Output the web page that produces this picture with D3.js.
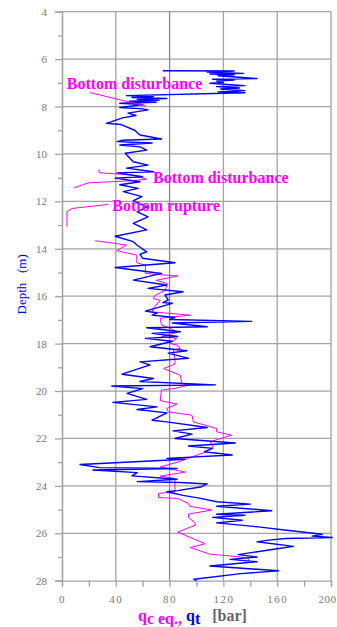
<!DOCTYPE html>
<html>
<head>
<meta charset="utf-8">
<script src="https://cdn.jsdelivr.net/npm/d3@7"></script>
<style>
  html, body { margin: 0; padding: 0; background: #fff; }
  svg { display: block; }
</style>
</head>
<body>
<svg id="chart" width="337" height="627"></svg>
<script>
// Depth axis (m) and resistance axis (bar)
const depthTicksMajor = [4, 6, 8, 10, 12, 14, 16, 18, 20, 22, 24, 26, 28];
const depthTicksMinor = [5, 7, 9, 11, 13, 15, 17, 19, 21, 23, 25, 27];
const barTicksLabeled = [0, 40, 80, 120, 160, 200];
const barTicksAll = [0, 20, 40, 60, 80, 100, 120, 140, 160, 180, 200];

// qt profile: [depth m, qt bar]
const qtProfile = [
  [6.49,75],[6.50,128],[6.55,108],[6.60,135],[6.63,110],[6.66,128],[6.70,116],[6.82,145],
  [6.85,112],[6.88,128],[6.93,115],[6.98,120],[7.02,110],[7.12,136],[7.16,115],[7.22,132],
  [7.26,118],[7.33,136],[7.38,116],[7.42,136],[7.54,48],[7.58,68],[7.62,52],[7.66,78],
  [7.70,56],[7.74,72],[7.78,50],[7.82,70],[7.86,43],[7.92,60],[8.04,43],[8.10,60],
  [8.14,64],[8.28,49],[8.38,55],[8.48,45],[8.71,33],[8.76,44],[9.00,54],[9.20,58],
  [9.37,74],[9.42,45],[9.48,41],[9.54,67],[9.62,43],[9.70,58],[9.84,63],[9.97,47],
  [10.15,50],[10.33,53],[10.47,64],[10.60,48],[10.75,68],[10.80,41],[10.96,60],[11.02,39.5],
  [11.17,58],[11.30,43],[11.45,56.6],[11.59,45.6],[11.80,59.5],[11.97,53],[12.23,63],[12.44,56],
  [12.65,64],[12.93,53],[13.20,63],[13.47,39.5],[13.70,53],[13.85,56],[14.13,63],[14.23,58],
  [14.40,60],[14.59,84],[14.79,39.5],[15.04,74],[15.32,53],[15.53,78],[15.67,64],[15.81,90],
  [15.95,76.6],[16.16,79],[16.27,75],[16.30,82],[16.63,62],[16.71,70.7],[16.80,67],[16.90,84],
  [16.98,80],[17.06,141],[17.13,82],[17.29,108],[17.33,63],[17.50,88],[17.57,67],[17.70,86],
  [17.78,62],[17.90,82],[18.13,65.5],[18.30,93],[18.40,79],[18.62,94],[18.77,58],[18.90,65.5],
  [19.29,44.7],[19.47,68],[19.60,58],[19.74,114],[19.79,37],[19.90,60],[20.10,48.4],[20.35,63],
  [20.48,37.9],[20.67,70.7],[20.78,55.8],[20.92,78],[21.06,73],[21.23,67],[21.30,78],[21.54,108],
  [21.68,82.6],[21.82,96.7],[22.00,84],[22.19,128.8],[22.32,94],[22.42,112],[22.56,106],[22.70,126.5],
  [22.84,78],[22.88,91.5],[23.10,13.4],[23.23,28],[23.27,85.6],[23.33,23],[23.44,56],[23.58,52],
  [23.72,85.6],[23.82,56],[23.86,88],[23.92,108],[24.05,103],[24.20,85.6],[24.25,78],[24.40,90],
  [24.53,103],[24.67,115],[24.77,140],[24.86,115],[25.05,156],[25.20,115],[25.24,136],[25.33,112],
  [25.45,134],[25.56,115],[25.73,146],[25.87,167],[26.04,193.5],[26.12,186],[26.18,201],[26.22,166],
  [26.30,152],[26.36,145],[26.55,172],[26.65,160],[26.90,131],[27.00,145],[27.10,125],[27.20,145],
  [27.38,110],[27.58,161],[27.70,133],[27.94,98],[28.00,100]
];

// qc eq. profile: [depth m, qc eq. bar]; null marks a break in the record
const qcEqProfile = [
  [10.65,27.5],[10.79,27.8],[10.89,51.9],[11.07,63],[11.13,51.9],[11.22,19.6],[11.43,8.9],
  null,
  [12.13,34.3],[12.30,7.4],[12.44,3.7],[13.07,3.7],
  null,
  [13.66,24.6],[13.84,48],[14.08,40.6],[14.27,55.6],[14.59,55.6],[14.69,62],[15.04,62],
  [15.15,86],[15.33,70],[15.46,78],[15.75,77],[15.97,69],[16.10,68],[16.18,73],[16.50,68],
  [16.66,66.8],[16.80,95.5],[16.93,73],[17.21,74],[17.35,80],[17.52,86],[17.70,74],[17.78,85.4],
  [17.99,80],[18.06,85.4],[18.20,88],[18.27,82.6],[18.62,84],[18.86,84],[19.05,75.6],[19.33,88],
  [19.68,89],[19.75,94],[19.89,84],[19.96,74],[20.40,73],[20.55,85.6],[20.73,78],[20.88,79],
  [21.02,96.7],[21.30,97.7],[21.48,108.8],[21.58,115],[21.72,115],[21.86,126],[22.14,110],[22.35,112.6],
  [22.56,107.7],[22.75,98],[23.00,86],[23.20,73],[23.42,91.6],[23.59,73],[23.69,84],[24.25,84],
  [24.32,71.7],[24.49,71.7],[24.53,86],[24.74,94],[24.86,95],[25.02,111.4],[25.19,94],[25.33,94],
  [25.56,99],[25.66,99],[25.95,86],[26.44,106.4],[26.60,95.3],[26.88,110],[26.97,127.6],[27.05,138.5],
  [27.20,138.5]
];

// Annotation labels: text, start value (bar), baseline depth (m)
const noteTexts = ["Bottom disturbance", "Bottom disturbance", "Bottom rupture"];
const noteValues = [3.5, 67.7, 37.4];
const noteDepths = [7.27, 11.21, 12.39];
// Leader from the first label down to the record: [[depth, bar], [depth, bar]]
const noteLeader = [[7.41, 20.8], [7.98, 62.5]];

const W = 337, H = 627;
const margin = { top: 11.7, right: 6, bottom: 46.3, left: 62 };
const svg = d3.select("#chart");

const x = d3.scaleLinear().domain([0, 200]).range([margin.left, W - margin.right]);
const y = d3.scaleLinear().domain([4, 28]).range([margin.top, H - margin.bottom]);

const gridColor = "#a3a3a3";
const tickTextColor = "#7a7a7a";
const serif = "'Liberation Serif', 'Times New Roman', serif";

// Grid
const grid = svg.append("g");
grid.selectAll("line.h").data(depthTicksMajor.slice(0, -1)).join("line")
  .attr("x1", x(0)).attr("x2", x(200))
  .attr("y1", d => y(d)).attr("y2", d => y(d))
  .attr("stroke", gridColor).attr("stroke-width", 1.3);
grid.selectAll("line.v").data(barTicksLabeled.slice(1)).join("line")
  .attr("x1", d => x(d)).attr("x2", d => x(d))
  .attr("y1", y(4)).attr("y2", y(28))
  .attr("stroke", d => d === 80 ? "#8a8a8a" : gridColor).attr("stroke-width", 1.3);

// Left axis: labelled even depths, short ticks at odd depths
const yAxisMajor = d3.axisLeft(y).tickValues(depthTicksMajor).tickSize(7).tickPadding(8).tickFormat(d3.format("d"));
const yAxisMinor = d3.axisLeft(y).tickValues(depthTicksMinor).tickSize(4).tickFormat("");
function styleAxis(g) {
  g.select(".domain").attr("stroke", gridColor).attr("stroke-width", 1.3);
  g.selectAll(".tick line").attr("stroke", gridColor).attr("stroke-width", 1.3);
  g.selectAll(".tick text").attr("fill", tickTextColor)
    .style("font-family", serif).style("font-size", "11px");
}
svg.append("g").attr("transform", `translate(${margin.left},0)`).call(yAxisMajor).call(styleAxis);
svg.append("g").attr("transform", `translate(${margin.left},0)`).call(yAxisMinor).call(styleAxis);

// Bottom axis; the last label is kept inside the page edge
const xAxis = d3.axisBottom(x).tickValues(barTicksAll).tickSize(6).tickPadding(9)
  .tickFormat(d => barTicksLabeled.includes(d) ? d : "");
const gx = svg.append("g").attr("transform", `translate(0,${y(28)})`).call(xAxis).call(styleAxis);
gx.selectAll(".tick text").style("letter-spacing", "1.5px");
gx.selectAll(".tick text").filter(d => d === 200)
  .attr("text-anchor", "end").attr("dx", W - 1 - x(200))
  .style("letter-spacing", "0.5px");

// Records
const line = d3.line()
  .defined(d => d !== null)
  .x(d => x(d[1]))
  .y(d => y(d[0]));

svg.append("path").datum(qcEqProfile)
  .attr("d", line).attr("fill", "none")
  .attr("stroke", "#ff00ff").attr("stroke-width", 1);

svg.append("path").datum(qtProfile)
  .attr("d", line).attr("fill", "none")
  .attr("stroke", "#0000ff").attr("stroke-width", 1.4).attr("stroke-linejoin", "round");

// Annotations
svg.append("path").datum(noteLeader)
  .attr("d", line).attr("fill", "none")
  .attr("stroke", "#ff00ff").attr("stroke-width", 1);

svg.append("g").selectAll("text").data(noteTexts).join("text")
  .attr("x", (d, i) => x(noteValues[i]))
  .attr("y", (d, i) => y(noteDepths[i]))
  .attr("fill", "#ff00ff")
  .style("font-family", serif).style("font-size", "16px").style("font-weight", "bold")
  .text(d => d);

// Axis titles
svg.append("text")
  .attr("transform", `translate(26,${y(15.5)}) rotate(-90)`)
  .attr("text-anchor", "middle")
  .attr("fill", "#0000ff")
  .style("font-family", serif).style("font-size", "13px")
  .style("white-space", "pre")
  .text("Depth   (m)");

const xt = svg.append("text")
  .attr("x", 138).attr("y", 621)
  .style("font-family", serif).style("font-size", "16px").style("font-weight", "bold")
  .style("white-space", "pre");
xt.append("tspan").attr("fill", "#ff00ff").text("q");
xt.append("tspan").attr("fill", "#ff00ff").attr("dy", 3).text("c eq.,");
xt.append("tspan").attr("fill", "#0000ff").attr("dy", -3).text(" q");
xt.append("tspan").attr("fill", "#0000ff").attr("dy", 3).text("t");
xt.append("tspan").attr("fill", "#666666").attr("dy", -3).text("   [bar]");
</script>
</body>
</html>
